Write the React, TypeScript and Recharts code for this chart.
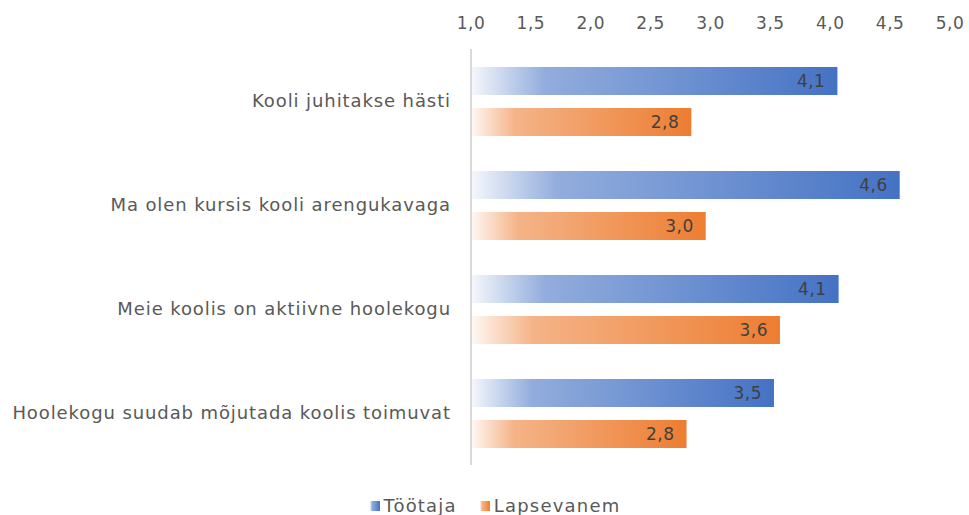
import { BarChart, Bar, XAxis, YAxis, Legend, LabelList } from 'recharts'

const categories = [
  'Kooli juhitakse hästi',
  'Ma olen kursis kooli arengukavaga',
  'Meie koolis on aktiivne hoolekogu',
  'Hoolekogu suudab mõjutada koolis toimuvat',
]
const tootaja = [4.06, 4.58, 4.07, 3.53]
const lapsevanem = [2.84, 2.96, 3.58, 2.8]
const ticks = [1, 1.5, 2, 2.5, 3, 3.5, 4, 4.5, 5]
const seriesNames = ['Töötaja', 'Lapsevanem']

const data = categories.map((name, i) => ({
  name,
  tootaja: tootaja[i],
  lapsevanem: lapsevanem[i],
}))

const FONT = '"DejaVu Sans", sans-serif'
const fmt = (v: number) => Number(v).toFixed(1).replace('.', ',')

function LegendBox() {
  const grads = ['url(#gBlue)', 'url(#gOrange)']
  return (
    <div style={{ display: 'flex', justifyContent: 'center', alignItems: 'center', paddingTop: 30, paddingLeft: 40 }}>
      {seriesNames.map((n, i) => (
        <span key={n} style={{ display: 'flex', alignItems: 'center', marginRight: i === 0 ? 23 : 0 }}>
          <svg width={10} height={10} style={{ marginRight: 4 }}>
            <rect width={10} height={10} fill={grads[i]} />
          </svg>
          <span style={{ color: '#595959', fontSize: 18, letterSpacing: 1.2, fontFamily: FONT }}>{n}</span>
        </span>
      ))}
    </div>
  )
}

export default function App() {
  return (
    <div style={{ position: 'absolute', left: 0, top: 0, fontFamily: FONT }}>
      <BarChart
        width={969}
        height={515}
        data={data}
        layout="vertical"
        margin={{ top: 0, right: 19, left: 0, bottom: 0 }}
        barSize={28}
        barGap={13}
      >
        <defs>
          <linearGradient id="gBlue" x1="0" y1="0" x2="1" y2="0">
            <stop offset="0" stopColor="#4472c4" stopOpacity={0.05} />
            <stop offset="0.2" stopColor="#4472c4" stopOpacity={0.58} />
            <stop offset="1" stopColor="#4472c4" stopOpacity={1} />
          </linearGradient>
          <linearGradient id="gOrange" x1="0" y1="0" x2="1" y2="0">
            <stop offset="0" stopColor="#ed7d31" stopOpacity={0.05} />
            <stop offset="0.2" stopColor="#ed7d31" stopOpacity={0.58} />
            <stop offset="1" stopColor="#ed7d31" stopOpacity={1} />
          </linearGradient>
        </defs>
        <XAxis
          type="number"
          orientation="top"
          domain={[1, 5]}
          ticks={ticks}
          tickFormatter={fmt}
          height={49}
          axisLine={false}
          tickLine={false}
          tickSize={0}
          tickMargin={20}
          tick={{ fontSize: 17, fill: '#595959', fontFamily: FONT, letterSpacing: 0.5 }}
        />
        <YAxis
          type="category"
          dataKey="name"
          width={471}
          axisLine={{ stroke: '#d9d9d9', strokeWidth: 2 }}
          tickLine={false}
          tickSize={0}
          tickMargin={20}
          tick={{ fontSize: 18, fill: '#595959', fontFamily: FONT, letterSpacing: 0.9 }}
        />
        <Legend verticalAlign="bottom" height={50} content={() => <LegendBox />} />
        <Bar dataKey="tootaja" name="Töötaja" fill="url(#gBlue)" isAnimationActive={false}>
          <LabelList dataKey="tootaja" position="insideRight" offset={12} formatter={fmt} style={{ fill: '#404040', fontSize: 17, fontFamily: FONT, letterSpacing: 0.5 }} />
        </Bar>
        <Bar dataKey="lapsevanem" name="Lapsevanem" fill="url(#gOrange)" isAnimationActive={false}>
          <LabelList dataKey="lapsevanem" position="insideRight" offset={12} formatter={fmt} style={{ fill: '#404040', fontSize: 17, fontFamily: FONT, letterSpacing: 0.5 }} />
        </Bar>
      </BarChart>
    </div>
  )
}
